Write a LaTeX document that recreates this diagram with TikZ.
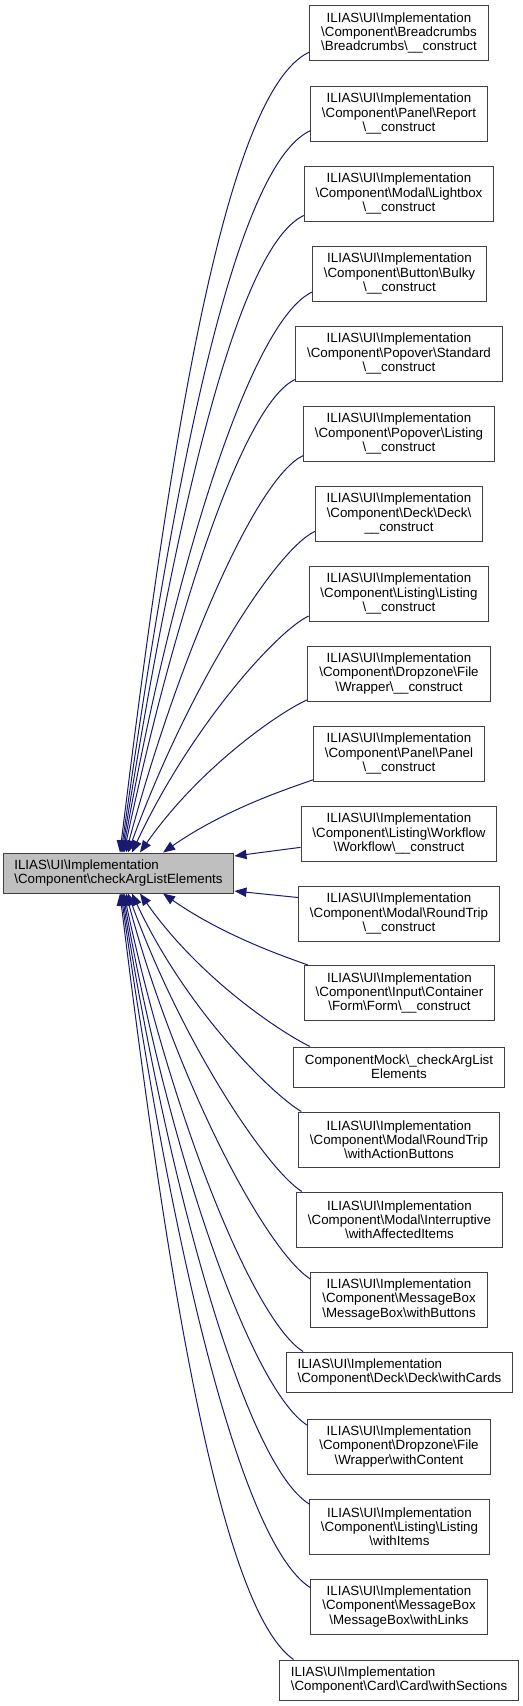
\documentclass[tikz,border=0pt]{standalone}
\usepackage{fontspec}
\setmainfont{Liberation Sans}
\usetikzlibrary{arrows.meta}

\definecolor{edgeblue}{RGB}{25,25,112}
\definecolor{boxgray}{RGB}{64,64,64}
\definecolor{mainfill}{RGB}{191,191,191}
\newcommand{\bsl}{\textbackslash}

\tikzset{
  fn/.style={draw=boxgray, fill=white, line width=0.75pt, align=center,
    font=\fontsize{10}{10.7}\selectfont, inner xsep=8.5pt, inner ysep=2pt,
    minimum height=41.25pt},
  fnshort/.style={fn, minimum height=30pt},
  edge/.style={draw=edgeblue, line width=0.75pt, -{Triangle[length=9pt,width=7pt]}}
}

\begin{document}
\begin{tikzpicture}[x=0.75pt, y=-0.75pt]
    \useasboundingbox (0,0) rectangle (523,1706);

    % Called function
    \node[fnshort, fill=mainfill, align=left] (main) at (118.5,873)
        {ILIAS\bsl UI\bsl Implementation\\\bsl Component\bsl checkArgListElements};

    % Callers above
    \node[fn] (bc) at (399,33) {ILIAS\bsl UI\bsl Implementation\\\bsl Component\bsl Breadcrumbs\\\bsl Breadcrumbs\bsl\_\_construct};
    \node[fn] (report) at (399,113.5) {ILIAS\bsl UI\bsl Implementation\\\bsl Component\bsl Panel\bsl Report\\\bsl\_\_construct};
    \node[fn] (lightbox) at (399,193.5) {ILIAS\bsl UI\bsl Implementation\\\bsl Component\bsl Modal\bsl Lightbox\\\bsl\_\_construct};
    \node[fn] (bulky) at (399.5,273.5) {ILIAS\bsl UI\bsl Implementation\\\bsl Component\bsl Button\bsl Bulky\\\bsl\_\_construct};
    \node[fn] (popstd) at (399,353.5) {ILIAS\bsl UI\bsl Implementation\\\bsl Component\bsl Popover\bsl Standard\\\bsl\_\_construct};
    \node[fn] (poplist) at (399,433.5) {ILIAS\bsl UI\bsl Implementation\\\bsl Component\bsl Popover\bsl Listing\\\bsl\_\_construct};
    \node[fn] (deck) at (399,513.5) {ILIAS\bsl UI\bsl Implementation\\\bsl Component\bsl Deck\bsl Deck\bsl\\\_\_construct};
    \node[fn] (listing) at (399,593.5) {ILIAS\bsl UI\bsl Implementation\\\bsl Component\bsl Listing\bsl Listing\\\bsl\_\_construct};
    \node[fn] (dropzone) at (399,673.5) {ILIAS\bsl UI\bsl Implementation\\\bsl Component\bsl Dropzone\bsl File\\\bsl Wrapper\bsl\_\_construct};
    \node[fn] (panel) at (399,753.5) {ILIAS\bsl UI\bsl Implementation\\\bsl Component\bsl Panel\bsl Panel\\\bsl\_\_construct};

    % Callers beside
    \node[fn] (workflow) at (399,833.5) {ILIAS\bsl UI\bsl Implementation\\\bsl Component\bsl Listing\bsl Workflow\\\bsl Workflow\bsl\_\_construct};
    \node[fn] (roundtrip) at (399,913.5) {ILIAS\bsl UI\bsl Implementation\\\bsl Component\bsl Modal\bsl RoundTrip\\\bsl\_\_construct};

    % Callers below
    \node[fn] (form) at (399.5,993) {ILIAS\bsl UI\bsl Implementation\\\bsl Component\bsl Input\bsl Container\\\bsl Form\bsl Form\bsl\_\_construct};
    \node[fnshort] (mock) at (399,1067) {ComponentMock\bsl\_checkArgList\\Elements};
    \node[fn] (rtbuttons) at (399,1139.5) {ILIAS\bsl UI\bsl Implementation\\\bsl Component\bsl Modal\bsl RoundTrip\\\bsl withActionButtons};
    \node[fn] (interrupt) at (399.5,1219.5) {ILIAS\bsl UI\bsl Implementation\\\bsl Component\bsl Modal\bsl Interruptive\\\bsl withAffectedItems};
    \node[fn] (msgbuttons) at (399,1299.5) {ILIAS\bsl UI\bsl Implementation\\\bsl Component\bsl MessageBox\\\bsl MessageBox\bsl withButtons};
    \node[fnshort, align=left] (deckcards) at (399.5,1372) {ILIAS\bsl UI\bsl Implementation\\\bsl Component\bsl Deck\bsl Deck\bsl withCards};
    \node[fn] (dzcontent) at (399,1446.5) {ILIAS\bsl UI\bsl Implementation\\\bsl Component\bsl Dropzone\bsl File\\\bsl Wrapper\bsl withContent};
    \node[fn] (listitems) at (399.5,1526.5) {ILIAS\bsl UI\bsl Implementation\\\bsl Component\bsl Listing\bsl Listing\\\bsl withItems};
    \node[fn] (msglinks) at (399,1606.5) {ILIAS\bsl UI\bsl Implementation\\\bsl Component\bsl MessageBox\\\bsl MessageBox\bsl withLinks};
    \node[fnshort, align=left] (cardsec) at (399,1680) {ILIAS\bsl UI\bsl Implementation\\\bsl Component\bsl Card\bsl Card\bsl withSections};

    % Calls from above
    \foreach \n/\a/\s/\o/\i in {bc/192/1.1/205/83, report/191/1.9/205/82,
        lightbox/193/2.6/205/81, bulky/192/3.4/205/80, popstd/194/4.1/205/78,
        poplist/193.5/5.6/205/75, deck/192.4/7.1/205/70, listing/194/10.1/205/65,
        dropzone/196/16.1/203/55, panel/197.5/33.4/200/35} {
        \draw[edge] (\n.\a) to[out=\o, in=\i, out looseness=0.3, in looseness=1.2]
            ([xshift=\s pt]main.north);
    }

    % Calls from beside
    \draw[edge] (workflow.188) -- ([yshift=12.75pt]main.east);
    \draw[edge] (roundtrip.171) -- ([yshift=-13.5pt]main.east);

    % Calls from below
    \foreach \n/\a/\s/\o/\i in {form/163/33.4/160/-35, mock/167.7/16.1/155/-55,
        rtbuttons/164/10.1/150/-65, interrupt/164.8/7.1/148/-70,
        msgbuttons/167/5.6/148/-75, deckcards/168.7/4.1/148/-78,
        dzcontent/167/3.4/148/-80, listitems/166.5/2.6/148/-81,
        msglinks/168.6/1.9/148/-82, cardsec/169/1.1/145/-83} {
        \draw[edge] (\n.\a) to[out=\o, in=\i, out looseness=0.3, in looseness=1.2]
            ([xshift=\s pt]main.south);
    }
\end{tikzpicture}
\end{document}
